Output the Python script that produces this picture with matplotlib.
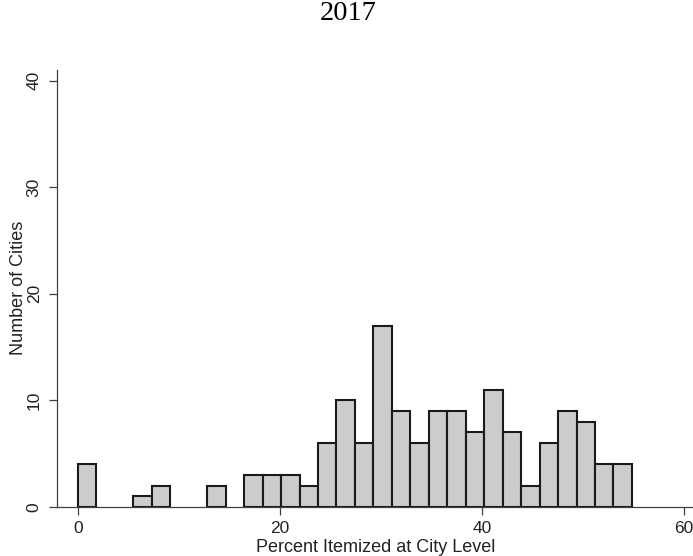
import matplotlib
matplotlib.use("Agg")
import matplotlib.pyplot as plt
import numpy as np

# Data
title = "2017"
x_label = "Percent Itemized at City Level"
y_label = "Number of Cities"
bin_start = 0.0
bin_width = 1.8283
counts = [4, 0, 0, 1, 2, 0, 0, 2, 0, 3,
          3, 3, 2, 6, 10, 6, 17, 9, 6, 9,
          9, 7, 11, 7, 2, 6, 9, 8, 4, 4]
x_ticks = [0, 20, 40, 60]
y_ticks = [0, 10, 20, 30, 40]

W, H = 693, 556
fig = plt.figure(figsize=(W / 100, H / 100), dpi=100)
L, R, T, B = 57, 693, 70, 507
ax = fig.add_axes([L / W, (H - B) / H, (R - L) / W, (B - T) / H])

edges = bin_start + bin_width * np.arange(len(counts))
mask = np.array(counts) > 0
ax.bar(edges[mask], np.array(counts)[mask], width=bin_width, align="edge",
       color="#cccccc", edgecolor="#1a1a1a", linewidth=1.5)

ax.set_xlim(-2.08, 60.9)
ax.set_ylim(0, 41.0)
ax.set_xticks(x_ticks)
ax.set_yticks(y_ticks)

for s in ["top", "right"]:
    ax.spines[s].set_visible(False)
for s in ["left", "bottom"]:
    ax.spines[s].set_color("#404040")
    ax.spines[s].set_linewidth(0.9)

ax.tick_params(axis="both", direction="out", length=6, width=0.9,
               color="#404040", labelcolor="#222222", labelsize=12.5)
ax.tick_params(axis="x", pad=4)
ax.tick_params(axis="y", pad=5)
for lab in ax.get_yticklabels():
    lab.set_rotation(90)
    lab.set_va("center")
for lab in ax.get_xticklabels() + ax.get_yticklabels():
    lab.set_fontfamily("Liberation Sans")

fig.text(348 / W, 1 - 14 / H, title, ha="center", va="center",
         fontsize=20.5, family="Liberation Serif", color="black")
fig.text(376 / W, 1 - 547 / H, x_label, ha="center", va="center",
         fontsize=13, family="Liberation Sans", color="#222222")
fig.text(18.5 / W, 1 - 288 / H, y_label, ha="center", va="center",
         rotation=90, fontsize=13, family="Liberation Sans", color="#222222")

fig.savefig("out.png", dpi=100)
